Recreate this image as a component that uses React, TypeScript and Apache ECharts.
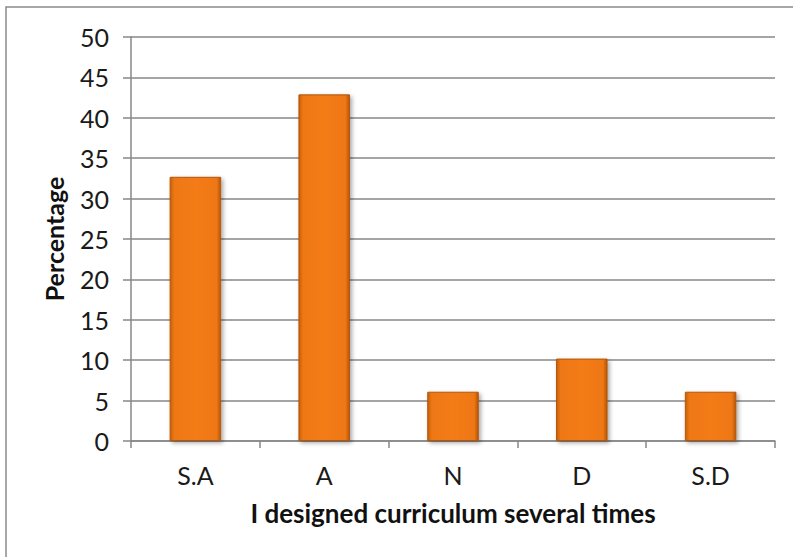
import React, { useEffect, useRef } from "react";
import * as echarts from "echarts";

const categories = ["S.A", "A", "N", "D", "S.D"];
const values = [32.7, 42.9, 6.1, 10.2, 6.1];
const yTicks = { min: 0, max: 50, interval: 5 };
const xTitle = "I designed curriculum several times";
const yTitle = "Percentage";

export default function App() {
  const ref = useRef<HTMLDivElement>(null);
  useEffect(() => {
    document.body.style.margin = "0";
    const chart = echarts.init(ref.current!, undefined, { renderer: "svg" });
    const grid = "#878787";
    chart.setOption({
      animation: false,
      backgroundColor: "#ffffff",
      graphic: [
        {
          type: "rect",
          shape: { x: 6, y: 7, width: 900, height: 700 },
          style: { fill: "none", stroke: "#8a8a8a", lineWidth: 1.5 },
          silent: true,
        },
      ],
      grid: { left: 131, right: 18, top: 37, bottom: 116 },
      xAxis: {
        type: "category",
        data: categories,
        name: xTitle,
        nameLocation: "middle",
        nameGap: 59,
        nameTextStyle: { fontFamily: "Lato", fontWeight: "bold", fontSize: 26, color: "#111" },
        axisLine: { lineStyle: { color: grid, width: 1.5 } },
        axisTick: { show: true, length: 7, lineStyle: { color: grid, width: 1.5 } },
        axisLabel: { fontFamily: "Lato", fontSize: 25, color: "#1a1a1a", margin: 21 },
      },
      yAxis: {
        type: "value",
        min: yTicks.min,
        max: yTicks.max,
        interval: yTicks.interval,
        name: yTitle,
        nameLocation: "middle",
        nameGap: 65,
        nameRotate: 90,
        nameTextStyle: { fontFamily: "Lato", fontWeight: "bold", fontSize: 25, color: "#111" },
        axisLine: { show: true, lineStyle: { color: grid, width: 1.5 } },
        axisTick: { show: true, length: 8, lineStyle: { color: grid, width: 1.5 } },
        axisLabel: { fontFamily: "Lato", fontSize: 25, color: "#1a1a1a", margin: 22 },
        splitLine: { show: true, lineStyle: { color: grid, width: 1.5 } },
      },
      series: [
        {
          type: "bar",
          data: values,
          barWidth: "40%",
          itemStyle: {
            color: new echarts.graphic.LinearGradient(0, 0, 1, 0, [
              { offset: 0, color: "#C85F08" },
              { offset: 0.08, color: "#EE7812" },
              { offset: 0.5, color: "#F47B14" },
              { offset: 0.92, color: "#EE7812" },
              { offset: 1, color: "#B85407" },
            ]),
            borderColor: "#B0560C",
            borderWidth: 1,
            shadowColor: "rgba(0,0,0,0.35)",
            shadowBlur: 4,
            shadowOffsetX: 2,
            shadowOffsetY: 2,
          },
        },
      ],
    });
    return () => chart.dispose();
  }, []);
  return <div ref={ref} style={{ width: 793, height: 557 }} />;
}
